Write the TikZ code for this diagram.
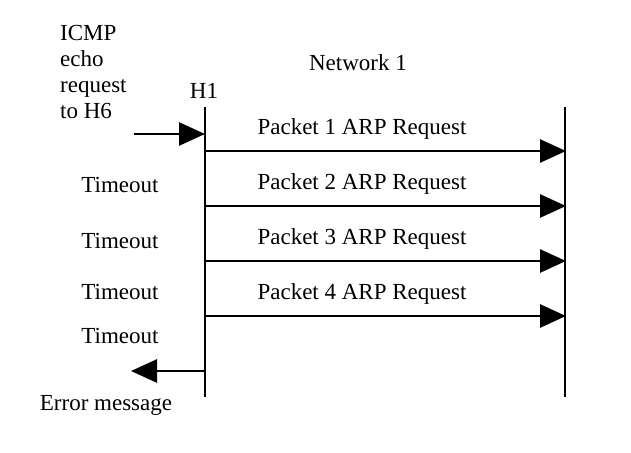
\documentclass[tikz,border=0pt]{standalone}
\usepackage{fontspec}
\setmainfont{Liberation Serif}
\usetikzlibrary{arrows.meta,positioning,calc}

\begin{document}
\begin{tikzpicture}[x=1pt,y=-1pt]
\tikzset{
  basic/.style  = {inner sep=0pt, font=\fontsize{23}{26}\selectfont},
  label/.style  = {basic, align=left},
  host/.style   = {line width=2.8pt},
  msg/.style    = {line width=2.8pt, -{Triangle[length=26pt,width=23pt]}},
}
\useasboundingbox (0,0) rectangle (631,452);

% the two time lines
\coordinate (h1top) at (205,107);
\coordinate (h1bot) at (205,397);
\coordinate (n1top) at (565,107);
\coordinate (n1bot) at (565,397);
\draw[host] (h1top) -- (h1bot);
\draw[host] (n1top) -- (n1bot);

\node[basic] (h1) at (204,91) {H1};
\node[basic] (net1) at (358,63) {Network 1};
\node[label, anchor=north west] (icmp) at (60,25)
  {ICMP\\[0pt]echo\\[0pt]request\\[0pt]to H6};

% incoming request
\coordinate (in) at (134,134);
\draw[msg] (in) -- (h1top |- in);

% ARP requests
\foreach \i/\y in {1/151, 2/206, 3/261, 4/316} {
  \coordinate (s\i) at (205,\y);
  \coordinate (e\i) at (566,\y);
  \draw[msg] (s\i) -- (e\i);
  \node[basic] (p\i) at (362,\y-22) {Packet \i\ ARP Request};
}

% timeouts
\node[basic] (t1) at (120,185) {Timeout};
\node[basic] (t2) at (120,241) {Timeout};
\node[basic] (t3) at (120,292) {Timeout};
\node[basic] (t4) at (120,336) {Timeout};

% error back to the user
\coordinate (err) at (131,371);
\draw[msg] (h1top |- err) -- (err);
\node[basic] (errmsg) at (106,405) {Error message};
\end{tikzpicture}
\end{document}
